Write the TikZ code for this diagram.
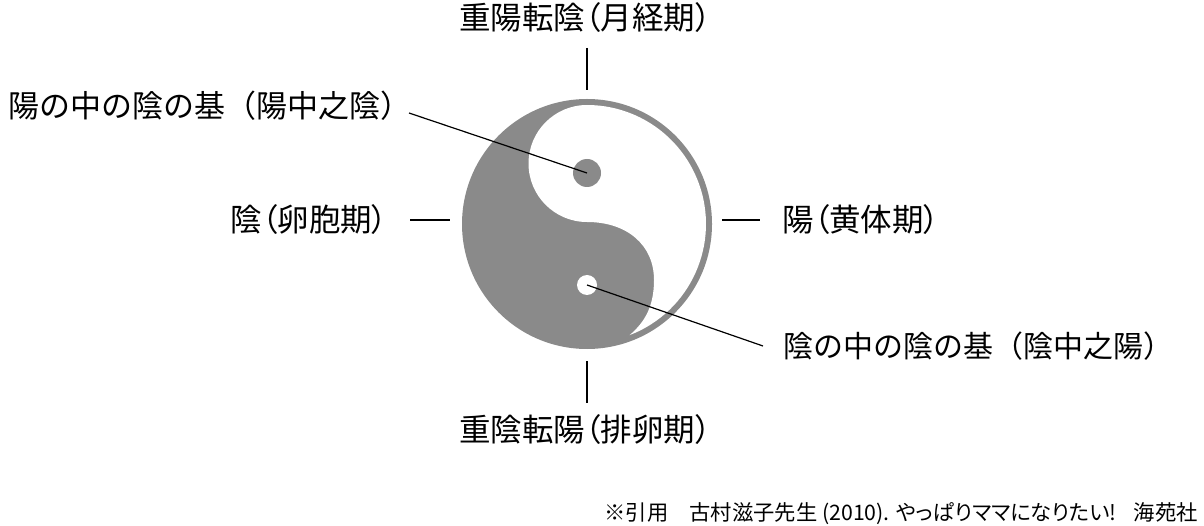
\documentclass[tikz,border=0pt]{standalone}
\usepackage{fontspec}
\setmainfont{Noto Sans CJK JP}
\newfontfamily\jpprop{Noto Sans CJK JP}[RawFeature=+palt]
\usepackage{xcolor}
\usepackage{tikz}
\usetikzlibrary{positioning, calc}
\definecolor{yygray}{HTML}{8A8A8A}
\tikzstyle{phase} = [font=\jpprop\fontsize{31.5}{36}\selectfont, inner sep=0pt]
\tikzstyle{seedtext} = [font=\fontsize{31}{36}\selectfont, inner sep=0pt]
\tikzstyle{note} = [font=\jpprop\fontsize{21.3}{24}\selectfont, inner sep=0pt, anchor=east]
\tikzstyle{seed} = [circle, inner sep=0pt]
\tikzstyle{guide} = [line width=1.2pt]

\begin{document}
\begin{tikzpicture}[x=1pt, y=-1pt]
\useasboundingbox (0,0) rectangle (1204,526);

% taiji symbol
\coordinate (taiji) at (587,224);
\fill [yygray] (taiji) circle (125);
\fill [white] (587,105) arc [start angle=-90, end angle=-270, radius=58.5]
  .. controls (627,222) and (654,245) .. (654,280)
  .. controls (654,306) and (645,322) .. (629.6,335.1)
  arc [start angle=69, end angle=-90, radius=119] -- cycle;
\node (yangseed) [seed, fill=yygray, minimum size=28pt] at (587,173) {};
\node (yinseed) [seed, fill=white, minimum size=20pt] at (587,285) {};

\node (menses) [phase] at (585,18) {重陽転陰（月経期）};
\node (ovulation) [phase] at (585,430) {重陰転陽（排卵期）};
\node (follicular) [phase, anchor=east] at (388,220) {陰（卵胞期）};
\node (luteal) [phase, anchor=west] at (782,220) {陽（黄体期）};
\node (yangroot) [seedtext, anchor=west] at (8,106) {陽の中の陰の基（陽中之陰）};
\node (yinroot) [seedtext, font=\fontsize{30}{36}\selectfont, anchor=west] at (783,346) {陰の中の陰の基（陰中之陽）};

\coordinate (topa) at (587,48);
\coordinate (topb) at (587,90);
\coordinate (bota) at (587,361);
\coordinate (botb) at (587,403);
\coordinate (lefta) at (410,220);
\coordinate (leftb) at (450,220);
\coordinate (righta) at (722,220);
\coordinate (rightb) at (760,220);
\coordinate (yangtail) at (409,113);
\coordinate (yintail) at (763,346);

\draw [guide] (topa) -- (topb);
\draw [guide] (bota) -- (botb);
\draw [guide] (lefta) -- (leftb);
\draw [guide] (righta) -- (rightb);
\draw [guide] (yangtail) -- (yangseed.center);
\draw [guide] (yinseed.center) -- (yintail);

% source
\node (source) [note] at (1198,514) {※引用　古村滋子先生 (2010). やっぱりママになりたい!\hspace{0.8em}海苑社};
\end{tikzpicture}
\end{document}
